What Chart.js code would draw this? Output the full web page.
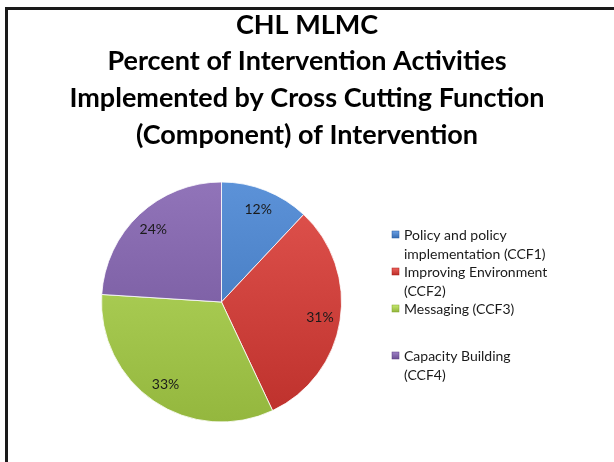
<!DOCTYPE html>
<html>
<head>
<meta charset="utf-8">
<script src="https://cdn.jsdelivr.net/npm/chart.js@4.4.1/dist/chart.umd.min.js"></script>
<style>
  html, body { margin: 0; padding: 0; background: #fff; }
  #wrap { position: relative; width: 614px; height: 462px; overflow: hidden; }
  #frame {
    position: absolute; left: 5px; top: 7px; width: 606px; height: 470px;
    border-top: 3px solid #1a1a1a; border-left: 3px solid #1a1a1a;
    border-right: 1px solid #d8d8d8; pointer-events: none;
  }
</style>
</head>
<body>
<div id="wrap">
  <canvas id="chart" width="614" height="462"></canvas>
  <div id="frame"></div>
</div>
<script>
const titleLines = [
  'CHL MLMC',
  'Percent of Intervention Activities',
  'Implemented by Cross Cutting Function',
  '(Component) of Intervention'
];
const categories = [
  ['Policy and policy', 'implementation (CCF1)'],
  ['Improving Environment', '(CCF2)'],
  ['Messaging (CCF3)'],
  ['Capacity Building', '(CCF4)']
];
const percents = [12, 31, 33, 24];
const colors = ['#4a80c6', '#cf423d', '#a6c950', '#7f62a7'];

// lighten (+) or darken (-) a hex colour
function shade(hex, amt) {
  const n = parseInt(hex.slice(1), 16);
  const f = c => Math.max(0, Math.min(255, Math.round(c + amt * 255)));
  const r = f(n >> 16), g = f((n >> 8) & 255), b = f(n & 255);
  return `rgb(${r},${g},${b})`;
}

function sliceFill(ctx) {
  const chart = ctx.chart;
  const area = chart.chartArea;
  if (!area) return colors[ctx.dataIndex];
  const base = colors[ctx.dataIndex];
  const cy = (area.top + area.bottom) / 2;
  const g = chart.ctx.createLinearGradient(0, cy - 120, 0, cy + 120);
  g.addColorStop(0, shade(base, 0.07));
  g.addColorStop(0.5, base);
  g.addColorStop(1, shade(base, -0.07));
  return g;
}

const font = 'Lato, "Open Sans", sans-serif';

// title across the full width (layout padding would squeeze the built-in one)
const wideTitle = {
  id: 'wideTitle',
  afterDraw(chart) {
    const ctx = chart.ctx;
    ctx.save();
    ctx.font = 'bold 27px ' + font;
    ctx.fillStyle = '#000';
    ctx.textAlign = 'center';
    ctx.textBaseline = 'middle';
    titleLines.forEach((t, i) => ctx.fillText(t, chart.width / 2, 25 + i * 36.7));
    ctx.restore();
  }
};

// percentage labels inside slices
const sliceLabels = {
  id: 'sliceLabels',
  afterDatasetsDraw(chart) {
    const ctx = chart.ctx;
    const meta = chart.getDatasetMeta(0);
    ctx.save();
    ctx.font = '14px ' + font;
    ctx.fillStyle = '#1a1a1a';
    ctx.textAlign = 'center';
    ctx.textBaseline = 'middle';
    meta.data.forEach((arc, i) => {
      const p = arc.getProps(['x', 'y', 'startAngle', 'endAngle', 'outerRadius'], true);
      const mid = (p.startAngle + p.endAngle) / 2;
      const d = p.outerRadius * 0.83;
      ctx.fillText(percents[i] + '%', p.x + Math.cos(mid) * d, p.y + Math.sin(mid) * d);
    });
    ctx.restore();
  }
};

// legend on the right with wrapped labels
const sideLegend = {
  id: 'sideLegend',
  afterDraw(chart) {
    const ctx = chart.ctx;
    const boxX = 392, textX = 404, lh = 18.5;
    let y = 234.5;
    ctx.save();
    ctx.font = '14px ' + font;
    ctx.textBaseline = 'middle';
    categories.forEach((lines, i) => {
      const g = ctx.createLinearGradient(0, y - 3.5, 0, y + 3.5);
      g.addColorStop(0, shade(colors[i], 0.12));
      g.addColorStop(1, shade(colors[i], -0.08));
      ctx.fillStyle = g;
      ctx.fillRect(boxX, y - 3.5, 7, 7);
      ctx.strokeStyle = shade(colors[i], -0.15);
      ctx.lineWidth = 0.5;
      ctx.strokeRect(boxX, y - 3.5, 7, 7);
      ctx.fillStyle = '#1a1a1a';
      lines.forEach((t, k) => ctx.fillText(t, textX, y + 1 + k * lh));
      y += lines.length > 1 ? lh * 2 : lh * 2 + 10;
    });
    ctx.restore();
  }
};

new Chart(document.getElementById('chart'), {
  type: 'pie',
  data: {
    labels: categories,
    datasets: [{
      data: percents,
      backgroundColor: sliceFill,
      borderColor: 'rgba(255,255,255,0.8)',
      borderWidth: 1,
      hoverOffset: 0
    }]
  },
  options: {
    responsive: false,
    animation: false,
    radius: 120,
    layout: { padding: { left: 100, right: 271, top: 160, bottom: 18 } },
    plugins: {
      legend: { display: false },
      tooltip: { enabled: false },
      title: { display: false }
    }
  },
  plugins: [sliceLabels, sideLegend, wideTitle]
});
</script>
</body>
</html>
